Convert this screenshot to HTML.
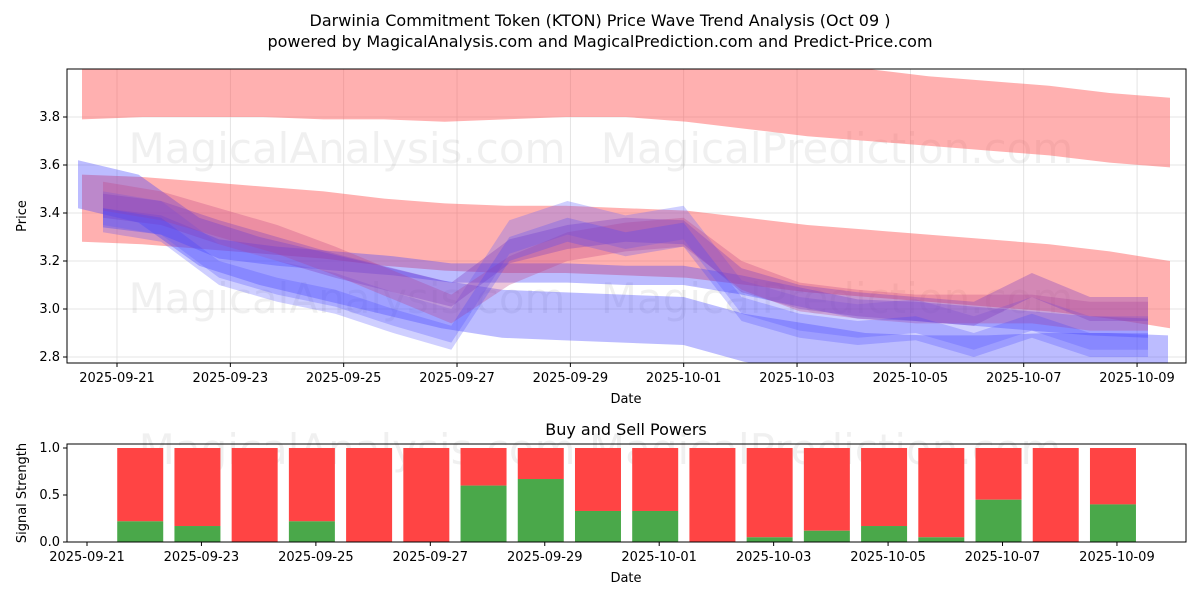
<!DOCTYPE html>
<html><head><meta charset="utf-8"><style>
body{margin:0;background:#fff;}
svg text{font-family:"DejaVu Sans","Liberation Sans",sans-serif;}
</style></head><body>
<svg id="chart" width="1200" height="600" xmlns="http://www.w3.org/2000/svg">
<rect width="1200" height="600" fill="#fff"/>
<defs><clipPath id="cp"><rect x="67" y="69" width="1119" height="294"/></clipPath></defs>
<text x="600" y="26" text-anchor="middle" font-size="16">Darwinia Commitment Token (KTON) Price Wave Trend Analysis (Oct 09 )</text>
<text x="600" y="47" text-anchor="middle" font-size="16">powered by MagicalAnalysis.com and MagicalPrediction.com and Predict-Price.com</text>
<g id="topChart"></g>
<g id="botChart"></g>
</svg>
<script>
const days = ["09-21","09-22","09-23","09-24","09-25","09-26","09-27","09-28","09-29","09-30","10-01","10-02","10-03","10-04","10-05","10-06","10-07","10-08","10-09"];
const xTickLabels = ["2025-09-21","2025-09-23","2025-09-25","2025-09-27","2025-09-29","2025-10-01","2025-10-03","2025-10-05","2025-10-07","2025-10-09"];
const yTicks = [2.8,3.0,3.2,3.4,3.6,3.8];
const upperBandTop = [4.05,4.05,4.05,4.05,4.05,4.04,4.03,4.03,4.03,4.02,4.02,4.02,4.01,4.0,3.97,3.95,3.93,3.9,3.88];
const upperBandBot = [3.79,3.8,3.8,3.8,3.79,3.79,3.78,3.79,3.8,3.8,3.78,3.75,3.72,3.7,3.68,3.66,3.64,3.61,3.59];
const lowerBandTop = [3.56,3.55,3.53,3.51,3.49,3.46,3.44,3.43,3.43,3.42,3.41,3.38,3.35,3.33,3.31,3.29,3.27,3.24,3.2];
const lowerBandBot = [3.28,3.27,3.25,3.23,3.21,3.18,3.16,3.15,3.15,3.14,3.13,3.1,3.07,3.05,3.03,3.01,2.99,2.96,2.92];
const waveA = [3.52,3.46,3.28,3.2,3.14,3.08,3.02,2.98,2.97,2.96,2.95,2.88,2.84,2.8,2.79,2.79,2.8,2.8,2.79];
const waveB = [3.42,3.38,3.2,3.13,3.08,3.0,2.93,3.3,3.38,3.32,3.36,3.05,2.98,2.95,2.97,2.9,2.98,2.9,2.9];
const waveC = [3.47,3.43,3.36,3.29,3.2,3.1,3.0,3.16,3.26,3.3,3.32,3.14,3.05,3.02,3.0,3.0,3.0,2.97,2.97];
const waveD = [3.43,3.4,3.32,3.25,3.18,3.12,3.06,3.24,3.3,3.33,3.32,3.12,3.05,3.02,3.0,2.98,3.1,3.0,3.0];
const waveE = [3.38,3.35,3.25,3.22,3.2,3.18,3.15,3.15,3.15,3.14,3.14,3.1,3.05,3.0,2.99,2.97,2.95,2.93,2.92];
const buyVals = [0.22,0.17,0,0.22,0,0,0.6,0.67,0.33,0.33,0,0.05,0.12,0.17,0.05,0.45,0,0.4];

const NS="http://www.w3.org/2000/svg";
function mk(p,t,a){const e=document.createElementNS(NS,t);for(const k in a)e.setAttribute(k,a[k]);p.appendChild(e);return e;}
const gTop=document.getElementById('topChart'), gBot=document.getElementById('botChart');
const X0=67,X1=1186,Y0=69,Y1=363;
const xT=d=>117+d*56.67;
const yT=v=>117+(3.8-v)*240;
yTicks.forEach(v=>{const l=mk(gTop,'line',{x1:X0,x2:X1,y1:yT(v),y2:yT(v),stroke:'#ddd','stroke-width':0.8});


mk(gTop,'line',{x1:X0-4,x2:X0,y1:yT(v),y2:yT(v),stroke:'#000'});
const t=mk(gTop,'text',{x:X0-7,y:yT(v)+4,'text-anchor':'end','font-size':13});t.textContent=v.toFixed(1);

});
xTickLabels.forEach((s,i)=>{const x=xT(i*2);mk(gTop,'line',{x1:x,x2:x,y1:Y0,y2:Y1,stroke:'#ddd','stroke-width':0.8});
mk(gTop,'line',{x1:x,x2:x,y1:Y1,y2:Y1+4,stroke:'#000'});
const t=mk(gTop,'text',{x:x,y:Y1+19,'text-anchor':'middle','font-size':13});t.textContent=s;

});
[["MagicalAnalysis.com",347,163],["MagicalPrediction.com",837,163],["MagicalAnalysis.com",347,313],["MagicalPrediction.com",837,313]].forEach(w=>{
const t=mk(gTop,'text',{x:w[1],y:w[2],'text-anchor':'middle','font-size':42,fill:'#000','fill-opacity':0.06});t.textContent=w[0];

});
const g=mk(gTop,'g',{'clip-path':'url(#cp)'});
// band spans pixel start xs to end xe
function band(tp,bt,col,op,xs,xe,name){const n=tp.length;let pts=[];
const px=i=>xs+(xe-xs)*i/(n-1);
for(let i=0;i<n;i++)pts.push(px(i)+','+yT(tp[i]));
for(let i=n-1;i>=0;i--)pts.push(px(i)+','+yT(bt[i]));
const p=mk(g,'polygon',{points:pts.join(' '),fill:col,'fill-opacity':op});

}
band(upperBandTop,upperBandBot,'#ff5050',0.45,82,1170,'upper-red-band');
band(lowerBandTop,lowerBandBot,'#ff5050',0.45,82,1170,'lower-red-band');
function wave(arr,hw,col,op,name,xs,xe){band(arr.map(v=>v+hw),arr.map(v=>v-hw),col,op,xs,xe,name);}
wave(waveA,0.1,'#4040ff',0.35,'blue-wave-a',78,1168);
wave(waveE,0.04,'#4040ff',0.35,'blue-wave-e',103,1148);
wave(waveB,0.07,'#6060ff',0.3,'blue-wave-b',103,1148);
wave(waveC,0.06,'#c04080',0.3,'red-wave-c',103,1148);
wave(waveD,0.05,'#8040c0',0.35,'purple-wave-d',103,1148);
wave(waveB.map(v=>v-0.05),0.05,'#4040ff',0.25,'blue-wave-f',103,1148);
mk(gTop,'rect',{x:X0,y:Y0,width:X1-X0,height:Y1-Y0,fill:'none',stroke:'#000','stroke-width':1});
let t=mk(gTop,'text',{x:626,y:403,'text-anchor':'middle','font-size':13});t.textContent='Date';


t=mk(gTop,'text',{x:26,y:216,'text-anchor':'middle','font-size':13,transform:'rotate(-90 26 216)'});t.textContent='Price';


const B0=444,B1=542;
const xB=d=>87+d*57.22;
const yB=v=>542-v*94;
[0,0.5,1].forEach(v=>{mk(gBot,'line',{x1:X0-4,x2:X0,y1:yB(v),y2:yB(v),stroke:'#000'});
const t=mk(gBot,'text',{x:X0-7,y:yB(v)+4,'text-anchor':'end','font-size':13});t.textContent=v.toFixed(1);

});
xTickLabels.forEach((s,i)=>{const x=xB(i*2);mk(gBot,'line',{x1:x,x2:x,y1:B1,y2:B1+4,stroke:'#000'});
const t=mk(gBot,'text',{x:x,y:B1+19,'text-anchor':'middle','font-size':13});t.textContent=s;

});
t=mk(gBot,'text',{x:600,y:464,'text-anchor':'middle','font-size':42,fill:'#000','fill-opacity':0.06});t.textContent='MagicalAnalysis.com      MagicalPrediction.com';


buyVals.forEach((b,i)=>{const x=xB(i+1)-27;
const r=mk(gBot,'rect',{x:x,y:yB(1),width:46,height:yB(b)-yB(1),fill:'#ff4444'});


const gr=mk(gBot,'rect',{x:x,y:yB(b),width:46,height:yB(0)-yB(b),fill:'#4aa84a'});

});
mk(gBot,'rect',{x:X0,y:B0,width:X1-X0,height:B1-B0,fill:'none',stroke:'#000','stroke-width':1});
t=mk(gBot,'text',{x:626,y:435,'text-anchor':'middle','font-size':16});t.textContent='Buy and Sell Powers';


t=mk(gBot,'text',{x:626,y:582,'text-anchor':'middle','font-size':13});t.textContent='Date';


t=mk(gBot,'text',{x:26,y:493,'text-anchor':'middle','font-size':13,transform:'rotate(-90 26 493)'});t.textContent='Signal Strength';


</script>
</body></html>
